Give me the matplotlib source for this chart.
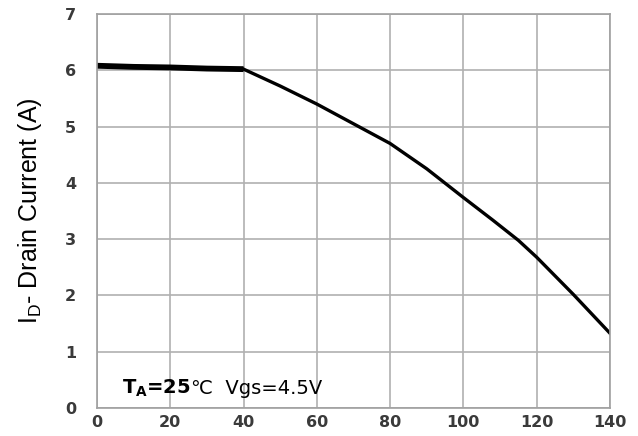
import numpy as np
import matplotlib.pyplot as plt

# drain current vs ambient temperature
temp_flat = [0, 10, 20, 30, 40]
id_flat = [6.08, 6.06, 6.05, 6.03, 6.02]

temp_drop = [40, 50, 60, 70, 80, 90, 100, 108, 115, 120, 130, 140]
id_drop = [6.02, 5.72, 5.40, 5.05, 4.70, 4.25, 3.74, 3.34, 2.98, 2.68, 2.02, 1.33]

x_ticks = [0, 20, 40, 60, 80, 100, 120, 140]
y_ticks = [0, 1, 2, 3, 4, 5, 6, 7]

plt.rcParams["font.family"] = ["Liberation Sans", "DejaVu Sans"]

fig = plt.figure(figsize=(6.38, 4.36), dpi=100)
ax = fig.add_axes([0.152, 0.064, 0.804, 0.904])

ax.plot(temp_flat, id_flat, color="black", linewidth=4.2, solid_capstyle="butt")
ax.plot(temp_drop, id_drop, color="black", linewidth=2.4)

ax.set_xlim(0, 140)
ax.set_ylim(0, 7)
ax.set_xticks(x_ticks)
ax.set_yticks(y_ticks)
ax.grid(True, color="#b0b0b0", linewidth=1.2)
ax.tick_params(length=0, labelcolor="#3a3a3a")
ax.tick_params(axis="x", pad=5)
ax.tick_params(axis="y", pad=15)
for lbl in ax.get_xticklabels() + ax.get_yticklabels():
    lbl.set_fontweight("bold")
    lbl.set_fontfamily("DejaVu Sans")
    lbl.set_fontsize(11.5)
for s in ax.spines.values():
    s.set_color("#a0a0a0")
    s.set_linewidth(1.2)

ax.set_ylabel("I$_\\mathregular{D}$- Drain Current (A)", fontsize=18, labelpad=15)

ax.text(6.8, 0.25, "T$_\\mathregular{A}$=25", fontsize=14, fontweight="bold",
        family="DejaVu Sans", va="baseline")
ax.text(25.6, 0.25, "\u2103  Vgs=4.5V", fontsize=14, family="DejaVu Sans",
        va="baseline")

fig.savefig("out.png", dpi=100)
